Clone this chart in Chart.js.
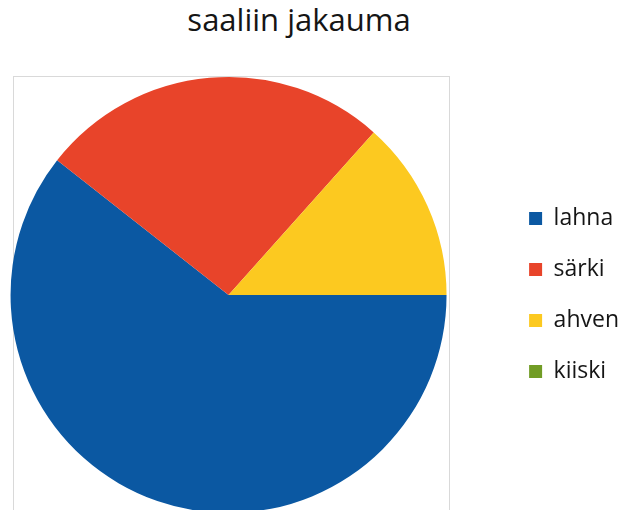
<!DOCTYPE html>
<html>
<head>
  <meta charset="utf-8">
  <title>saaliin jakauma</title>
  <script src="https://cdn.jsdelivr.net/npm/chart.js@4.4.0/dist/chart.umd.min.js"></script>
  <style>
    html, body {
      margin: 0;
      padding: 0;
      background: #fff;
      overflow: hidden;
    }
    #title {
      position: absolute;
      left: 0;
      top: 4px;
      width: 598px;
      text-align: center;
      font-family: 'Open Sans', sans-serif;
      font-size: 31px;
      line-height: 31px;
      color: #151515;
    }
    #wrap {
      position: absolute;
      left: -44px;
      top: 0;
      width: 673px;
      height: 540px;
    }
  </style>
</head>
<body>

<div id="title">saaliin jakauma</div>
<div id="wrap">
  <canvas id="pie"></canvas>
</div>

<script>
  // catch by species, share of total (%)
  const species = ['lahna', 'särki', 'ahven', 'kiiski'];
  const catchShare = [60.6, 26.0, 13.4, 0];
  const sliceColors = ['#0b58a2', '#e8442a', '#fcc920', '#719c25'];

  // thin grey frame around the pie
  const plotFrame = {
    id: 'plotFrame',
    beforeDatasetsDraw(chart) {
      const arc = chart.getDatasetMeta(0).data[0];
      const ctx = chart.ctx;
      const r = arc.outerRadius;
      ctx.save();
      ctx.strokeStyle = '#d9d9d9';
      ctx.lineWidth = 1;
      ctx.strokeRect(Math.round(arc.x - r) + 2.5, Math.round(arc.y - r) - 0.5, 2 * r, 2 * r + 10);
      ctx.restore();
    }
  };

  new Chart(document.getElementById('pie'), {
    type: 'pie',
    data: {
      labels: species,
      datasets: [{
        data: catchShare,
        backgroundColor: sliceColors,
        borderWidth: 0
      }]
    },
    options: {
      responsive: true,
      maintainAspectRatio: false,
      animation: false,
      rotation: 90,
      layout: {
        padding: {left: 0, right: 0, top: 77, bottom: 27}
      },
      plugins: {
        title: {display: false},
        legend: {
          position: 'right',
          align: 'center',
          labels: {
            color: '#151515',
            font: {family: 'Open Sans', size: 23},
            boxWidth: 13,
            boxHeight: 13,
            padding: 28
          }
        },
        tooltip: {enabled: false}
      }
    },
    plugins: [plotFrame]
  });
</script>

</body>
</html>
